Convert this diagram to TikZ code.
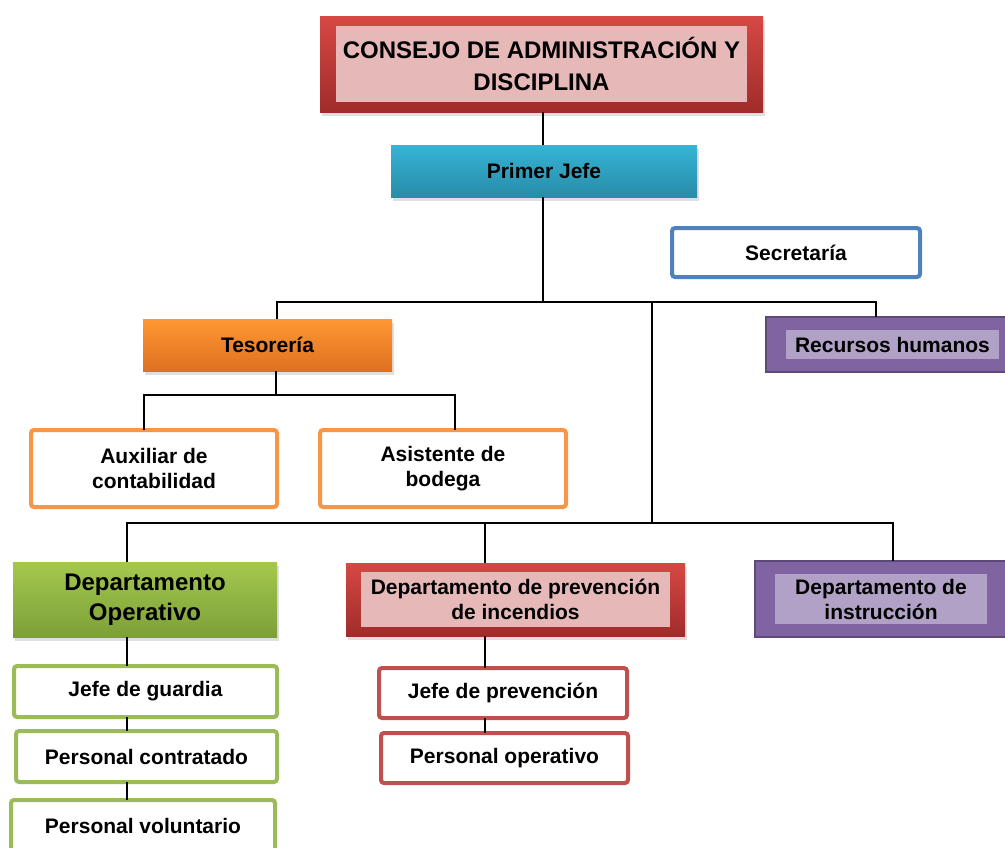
\documentclass[tikz,border=0pt]{standalone}
\usepackage{fontspec}
\setmainfont{Liberation Sans}
\usepackage{tikz}
\usetikzlibrary{shadows}

\definecolor{redtop}{RGB}{214,72,68}
\definecolor{redbot}{RGB}{160,44,42}
\definecolor{redin}{RGB}{230,184,183}
\definecolor{redline}{RGB}{192,80,77}
\definecolor{cyantop}{RGB}{54,180,214}
\definecolor{cyanbot}{RGB}{40,140,168}
\definecolor{orgtop}{RGB}{255,152,50}
\definecolor{orgbot}{RGB}{222,112,34}
\definecolor{orgline}{RGB}{247,150,70}
\definecolor{grntop}{RGB}{164,200,78}
\definecolor{grnbot}{RGB}{124,160,56}
\definecolor{grnline}{RGB}{155,187,89}
\definecolor{purout}{RGB}{128,100,162}
\definecolor{purdark}{RGB}{95,73,122}
\definecolor{purin}{RGB}{178,161,199}
\definecolor{blueline}{RGB}{79,129,189}

\tikzset{
  box/.style={font=\bfseries\fontsize{21}{25}\selectfont, align=center,
    inner sep=0pt, outer sep=0pt},
  big/.style={font=\bfseries\fontsize{24}{30}\selectfont},
  frame/.style={box, draw=#1, line width=4pt, rounded corners=3pt, fill=white},
  solid/.style 2 args={box, top color=#1, bottom color=#2,
    drop shadow={opacity=0.25, shadow xshift=2pt, shadow yshift=-4pt}},
  bevel/.style n args={3}{path picture={
    \fill[#1] ([shift={(#2pt,-#3pt)}]path picture bounding box.north west)
      rectangle ([shift={(-#2pt,#3pt)}]path picture bounding box.south east);}},
  link/.style={line width=1.6pt, black}
}

\begin{document}
\begin{tikzpicture}[x=1pt, y=-1pt]
  \useasboundingbox (0,0) rectangle (1005,847);

  % top
  \node [solid={redtop}{redbot}, bevel={redin}{16}{10}, big,
    font=\bfseries\fontsize{24}{32}\selectfont,
    minimum width=443pt, minimum height=96pt] (cons) at (541.5,64)
    {CONSEJO DE ADMINISTRACIÓN Y\\DISCIPLINA};
  \node [solid={cyantop}{cyanbot}, minimum width=306pt, minimum height=52pt]
    (jefe) at (544,171) {Primer Jefe};
  \node [frame=blueline, minimum width=248pt, minimum height=49pt]
    (secr) at (796,252.5) {Secretaría};

  % second level
  \node [solid={orgtop}{orgbot}, minimum width=249pt, minimum height=52pt]
    (teso) at (267.5,345) {Tesorería};
  \node [box, fill=purout, draw=purdark, line width=1.5pt, bevel={purin}{20}{13},
    minimum width=253pt, minimum height=55pt] (rrhh) at (892.5,344.5)
    {Recursos humanos};
  \node [frame=orgline, minimum width=246pt, minimum height=77pt]
    (aux) at (154,468.5) {Auxiliar de\\contabilidad};
  \node [frame=orgline, minimum width=246pt, minimum height=77pt]
    (asis) at (443,468.5) {Asistente de\\bodega};

  % departments
  \node [solid={grntop}{grnbot}, big, minimum width=264pt, minimum height=75pt]
    (dop) at (145,599.5) {Departamento\\Operativo};
  \node [solid={redtop}{redbot}, bevel={redin}{15}{9},
    minimum width=339pt, minimum height=73pt] (dpi) at (515.5,599.5)
    {Departamento de prevención\\de incendios};
  \node [box, fill=purout, draw=purdark, line width=1.5pt, bevel={purin}{20}{13},
    minimum width=252pt, minimum height=76pt] (din) at (881,599)
    {Departamento de\\instrucción};

  % staff
  \node [frame=grnline, minimum width=263pt, minimum height=51pt]
    (jg) at (145.5,691.5) {Jefe de guardia};
  \node [frame=grnline, minimum width=261pt, minimum height=51pt]
    (pc) at (146.5,756.5) {Personal contratado};
  \node [frame=grnline, minimum width=264pt, minimum height=51pt]
    (pv) at (143,825.5) {Personal voluntario};
  \node [frame=redline, minimum width=248pt, minimum height=50pt]
    (jp) at (503,693) {Jefe de prevención};
  \node [frame=redline, minimum width=247pt, minimum height=50pt]
    (po) at (504.5,758) {Personal operativo};

  % bus points
  \coordinate (busT) at (543,302);
  \coordinate (busL) at (277,302);
  \coordinate (busR) at (876,302);
  \coordinate (busM) at (652,302);
  \coordinate (subC) at (276,395);
  \coordinate (subL) at (144,395);
  \coordinate (subR) at (455,395);
  \coordinate (depM) at (652,523);
  \coordinate (depL) at (127,523);
  \coordinate (depC) at (485,523);
  \coordinate (depR) at (893,523);

  \begin{scope}[link]
    \draw (cons.south -| busT) -- (jefe.north -| busT);
    \draw (jefe.south -| busT) -- (busT);
    \draw (busL |- teso.north) -- (busL) -- (busR) -- (busR |- rrhh.north);
    \draw (busM) -- (depM);
    \draw (teso.south -| subC) -- (subC);
    \draw (subL |- aux.north) -- (subL) -- (subR) -- (subR |- asis.north);
    \draw (depL |- dop.north) -- (depL) -- (depR) -- (depR |- din.north);
    \draw (depC) -- (depC |- dpi.north);
    \draw (dop.south -| depL) -- (jg.north -| depL);
    \draw (jg.south -| depL) -- (pc.north -| depL);
    \draw (pc.south -| depL) -- (pv.north -| depL);
    \draw (dpi.south -| depC) -- (jp.north -| depC);
    \draw (jp.south -| depC) -- (po.north -| depC);
  \end{scope}
\end{tikzpicture}
\end{document}
